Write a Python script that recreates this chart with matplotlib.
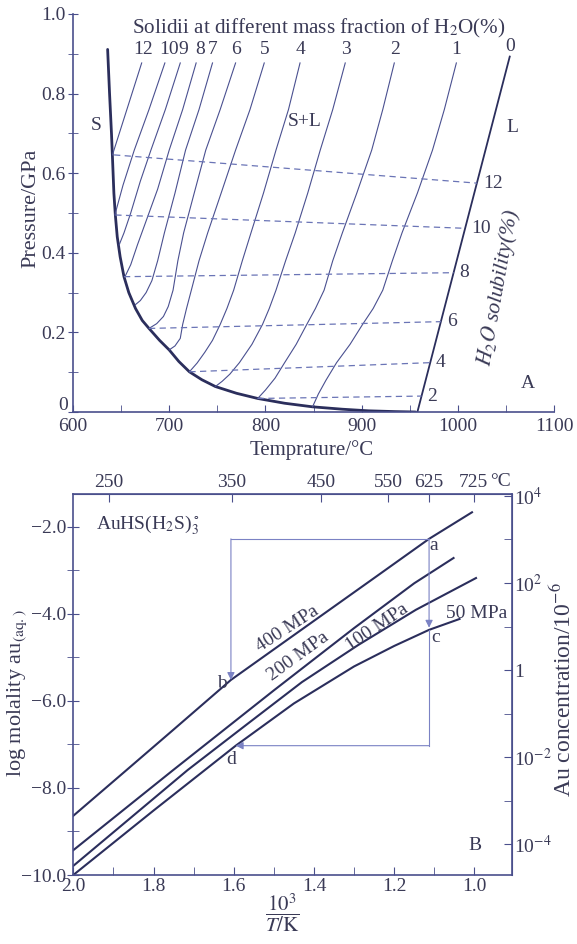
import matplotlib
matplotlib.use('Agg')
import matplotlib.pyplot as plt
from matplotlib.ticker import FixedLocator, FuncFormatter

plt.rcParams['font.family'] = ['Liberation Serif', 'DejaVu Serif']
plt.rcParams['mathtext.fontset'] = 'stix'
plt.rcParams['font.size'] = 14

# ---------------- data: panel A ----------------
S_T = [636, 638, 640, 641, 642.5, 644, 646, 649, 653, 658, 665, 672, 679, 690, 700, 710, 721,
       734, 748, 770, 792, 820, 849, 880, 907, 935, 956]
S_P = [0.911, 0.8, 0.7, 0.641, 0.55, 0.495, 0.44, 0.39, 0.34, 0.30, 0.26, 0.23, 0.21, 0.18, 0.156,
       0.127, 0.101, 0.081, 0.064, 0.047, 0.034, 0.022, 0.013, 0.007, 0.003, 0.001, 0.0]

L0_T = [958, 1054]
L0_P = [0.0, 0.893]

sol_12_T = [671.4, 656, 641]
sol_12_P = [0.877, 0.76, 0.646]
sol_10_T = [695.5, 679, 663.7, 652, 643.5]
sol_10_P = [0.877, 0.76, 0.658, 0.57, 0.495]
sol_9_T = [711.5, 696, 681, 670, 660, 653, 648]
sol_9_P = [0.877, 0.76, 0.658, 0.58, 0.5, 0.45, 0.42]
sol_8_T = [728, 714, 700, 688, 676, 667, 660, 654]
sol_8_P = [0.877, 0.76, 0.658, 0.56, 0.48, 0.42, 0.37, 0.34]
sol_7_T = [745, 731, 717, 706, 695, 688, 682, 676, 670, 665]
sol_7_P = [0.877, 0.76, 0.658, 0.55, 0.45, 0.38, 0.33, 0.30, 0.28, 0.27]
sol_6_T = [769, 753, 738, 726, 715, 709, 704, 699, 694, 687, 679]
sol_6_P = [0.877, 0.76, 0.658, 0.55, 0.45, 0.38, 0.306, 0.265, 0.24, 0.222, 0.21]
sol_5_T = [798.8, 784, 769, 754, 740, 731, 723, 718, 714, 711.5, 706, 700]
sol_5_P = [0.877, 0.76, 0.658, 0.55, 0.45, 0.38, 0.306, 0.26, 0.22, 0.185, 0.166, 0.156]
sol_4_T = [836, 824, 811, 798, 785, 776, 767, 760, 753, 745, 737, 729, 721]
sol_4_P = [0.877, 0.76, 0.658, 0.55, 0.45, 0.38, 0.306, 0.26, 0.22, 0.18, 0.15, 0.123, 0.101]
sol_3_T = [883, 870, 857, 844, 831, 821, 811, 804, 797, 786, 773, 763, 755, 748]
sol_3_P = [0.877, 0.76, 0.658, 0.55, 0.45, 0.38, 0.306, 0.26, 0.22, 0.17, 0.124, 0.095, 0.077, 0.064]
sol_2_T = [934, 922, 910.5, 895, 880, 870, 861, 852, 843, 832, 820, 810, 800, 792]
sol_2_P = [0.877, 0.76, 0.658, 0.55, 0.45, 0.38, 0.306, 0.26, 0.22, 0.17, 0.124, 0.085, 0.055, 0.034]
sol_1_T = [998.5, 986, 973.7, 958, 942, 932, 922, 912, 901, 888, 874, 863, 855, 849]
sol_1_P = [0.877, 0.76, 0.658, 0.55, 0.45, 0.38, 0.306, 0.26, 0.22, 0.17, 0.124, 0.08, 0.045, 0.013]

sol_labels = ['12', '10', '9', '8', '7', '6', '5', '4', '3', '2', '1', '0']
sol_label_T = [672.8, 700.1, 714.3, 731.9, 745.2, 769, 798.9, 837, 883.8, 934.3, 998.5, 1054]

dash_labels = ['12', '10', '8', '6', '4', '2']
dash_T0 = [642.7, 644, 653, 679, 721, 792]
dash_P0 = [0.646, 0.495, 0.34, 0.21, 0.101, 0.034]
dash_T1 = [1020, 1008, 996, 982.5, 971.4, 962.3]
dash_P1 = [0.575, 0.4615, 0.35, 0.227, 0.124, 0.04]

# ---------------- data: panel B ----------------
p400_x = [2.0, 1.866, 1.75, 1.607, 1.366, 1.25, 1.113, 1.006]
p400_y = [-8.64, -7.58, -6.66, -5.52, -3.94, -3.18, -2.28, -1.67]
p200_x = [2.0, 1.751, 1.5, 1.3, 1.15, 1.052]
p200_y = [-9.43, -7.59, -5.76, -4.33, -3.3, -2.72]
p100_x = [2.0, 1.86, 1.715, 1.57, 1.43, 1.29, 1.146, 1.07, 0.996]
p100_y = [-9.79, -8.71, -7.59, -6.56, -5.57, -4.72, -3.91, -3.54, -3.18]
p50_x = [2.0, 1.8, 1.595, 1.45, 1.3, 1.2, 1.113, 1.037]
p50_y = [-10.0, -8.52, -7.03, -6.06, -5.21, -4.74, -4.37, -4.12]

top_T_ticks = [250, 350, 450, 550, 625, 725]
right_ticks = [4, 2, 0, -2, -4]
right_labels = ['10$^4$', '10$^2$', '1', '10$^{-2}$', '10$^{-4}$']

pt_a = (1.113, -2.28)
pt_b = (1.607, -5.52)
pt_c = (1.113, -4.37)
pt_d = (1.595, -7.03)
box_bottom = -7.03

# ---------------- styling ----------------
W, H = 577, 944
TXT = '#3a3a56'
SPN = '#4a4f8c'
THICK = '#2b2e5c'
THIN = '#4a5090'
DASH = '#6a74b6'
BOX = '#7b82c4'
FS = 14

fig = plt.figure(figsize=(W / 100, H / 100), dpi=100)
fig.patch.set_facecolor('white')


def ftext(x, y, s, **kw):
    kw.setdefault('color', TXT)
    fig.text(x / W, 1 - y / H, s, **kw)


# ================= panel A =================
ax1 = fig.add_axes([73 / W, 1 - 412 / H, (554 - 73) / W, (412 - 14) / H])
ax1.set_xlim(600, 1100)
ax1.set_ylim(0, 1.0)
for s in ['top', 'right']:
    ax1.spines[s].set_visible(False)
for s in ['left', 'bottom']:
    ax1.spines[s].set_color(SPN)
    ax1.spines[s].set_linewidth(1.2)
ax1.set_xticks([600, 700, 800, 900, 1000, 1100])
ax1.set_xticks([650, 750, 850, 950, 1050], minor=True)
ax1.set_yticks([0, 0.2, 0.4, 0.6, 0.8, 1.0])
ax1.set_yticklabels(['', '0.2', '0.4', '0.6', '0.8', '1.0'])
ax1.set_yticks([0.1, 0.3, 0.5, 0.7, 0.9], minor=True)
ax1.tick_params(axis='x', which='both', direction='in', length=5, color=SPN, labelcolor=TXT, labelsize=FS, pad=4)
ax1.tick_params(axis='y', which='both', direction='inout', length=7, color=SPN, labelcolor=TXT, labelsize=FS, pad=2)
ftext(63, 405, '0', ha='center', va='center', fontsize=FS)

ax1.plot(S_T, S_P, color=THICK, lw=2.0, solid_capstyle='round', solid_joinstyle='round')
ax1.plot(L0_T, L0_P, color=THICK, lw=1.3)
for T, P in [(sol_12_T, sol_12_P), (sol_10_T, sol_10_P), (sol_9_T, sol_9_P), (sol_8_T, sol_8_P),
             (sol_7_T, sol_7_P), (sol_6_T, sol_6_P), (sol_5_T, sol_5_P), (sol_4_T, sol_4_P),
             (sol_3_T, sol_3_P), (sol_2_T, sol_2_P), (sol_1_T, sol_1_P)]:
    ax1.plot(T, P, color=THIN, lw=0.8, solid_joinstyle='round')

for lab, t0, p0, t1, p1 in zip(dash_labels, dash_T0, dash_P0, dash_T1, dash_P1):
    ax1.plot([t0, t1], [p0, p1], color=DASH, lw=0.9, dashes=(5, 3.5))
    ax1.text(t1 + 6, p1, lab, color=TXT, fontsize=FS, ha='left', va='center')

for lab, t in zip(sol_labels, sol_label_T):
    ax1.text(t, 0.912 if lab != '0' else 0.918, lab, color=TXT, fontsize=FS, ha='center', va='center')

ftext(132, 28, 'Solidii at different mass fraction of H$_2$O(%)', ha='left', va='center', fontsize=15.2)
ftext(96, 125, 'S', ha='center', va='center', fontsize=FS)
ftext(305, 122, 'S+L', ha='center', va='center', fontsize=FS)
ftext(512, 127, 'L', ha='center', va='center', fontsize=FS)
ftext(528, 383, 'A', ha='center', va='center', fontsize=FS)
ftext(499, 288, r'$H_2O$ solubility(%)', ha='center', va='center', fontsize=15.5,
      rotation=80, style='italic')
ftext(31, 208, 'Pressure/GPa', ha='center', va='center', fontsize=16, rotation=90)
ftext(312, 450, 'Temprature/°C', ha='center', va='center', fontsize=15)

# ================= panel B =================
ax2 = fig.add_axes([73.3 / W, 1 - 875 / H, (511.7 - 73.3) / W, (875 - 494) / H])
ax2.set_xlim(2.0, 0.907)
ax2.set_ylim(-10, -1.25)
for s in ax2.spines.values():
    s.set_color(SPN)
    s.set_linewidth(1.2)
ax2.set_xticks([2.0, 1.8, 1.6, 1.4, 1.2, 1.0])
ax2.set_xticks([1.9, 1.7, 1.5, 1.3, 1.1], minor=True)
ax2.xaxis.set_major_formatter(FuncFormatter(lambda v, p: f'{v:.1f}'))
ax2.set_yticks([-10, -8, -6, -4, -2])
ax2.set_yticks([-9, -7, -5, -3], minor=True)
ax2.yaxis.set_major_formatter(FuncFormatter(lambda v, p: f'{v:.1f}'.replace('-', '\u2212')))
ax2.tick_params(axis='x', which='both', direction='in', length=6, color=SPN, labelcolor=TXT, labelsize=FS, pad=2)
ax2.tick_params(axis='y', which='both', direction='inout', length=8, color=SPN, labelcolor=TXT, labelsize=FS, pad=1)

top = ax2.secondary_xaxis('top', functions=(lambda x: x, lambda x: x))
top.set_xticks([1000.0 / (t + 273.15) for t in top_T_ticks])
top.set_xticklabels([str(t) for t in top_T_ticks])
top.tick_params(direction='in', length=6, color=SPN, labelcolor=TXT, labelsize=FS, pad=2)
top.spines['top'].set_color(SPN)
ftext(490, 482, '°C', ha='left', va='center', fontsize=FS)

OFF = 5.294
right = ax2.secondary_yaxis('right', functions=(lambda y: y + OFF, lambda y: y - OFF))
right.set_yticks(right_ticks)
right.set_yticklabels(right_labels)
right.yaxis.set_minor_locator(FixedLocator([3, 1, -1, -3]))
right.tick_params(which='both', direction='in', length=6, color=SPN, labelcolor=TXT, labelsize=FS, pad=2)
right.spines['right'].set_color(SPN)

for xs, ys in [(p400_x, p400_y), (p200_x, p200_y), (p100_x, p100_y), (p50_x, p50_y)]:
    ax2.plot(xs, ys, color=THICK, lw=1.5, solid_joinstyle='round')

# path box with arrows
ax2.plot([pt_b[0], pt_a[0]], [pt_a[1], pt_a[1]], color=BOX, lw=0.8)
ax2.plot([pt_a[0], pt_a[0]], [pt_c[1], box_bottom], color=BOX, lw=0.8)
arr = dict(arrowstyle='-|>', color=BOX, lw=0.8, shrinkA=0, shrinkB=0, mutation_scale=11)
ax2.annotate('', xy=pt_b, xytext=(pt_b[0], pt_a[1]), arrowprops=arr)
ax2.annotate('', xy=(pt_c[0], pt_c[1] + 0.05), xytext=pt_a, arrowprops=arr)
ax2.annotate('', xy=pt_d, xytext=(pt_a[0], box_bottom), arrowprops=arr)

ftext(434, 545, 'a', ha='center', va='center', fontsize=FS)
ftext(222, 683, 'b', ha='center', va='center', fontsize=FS)
ftext(436, 637, 'c', ha='center', va='center', fontsize=FS)
ftext(231, 759, 'd', ha='center', va='center', fontsize=FS)
ftext(475, 845, 'B', ha='center', va='center', fontsize=FS)

ftext(96, 525, r'AuHS(H$_2$S)$_3^\circ$', ha='left', va='center', fontsize=FS)
ftext(287, 629, '400 MPa', ha='center', va='center', fontsize=FS, rotation=33)
ftext(298, 656, '200 MPa', ha='center', va='center', fontsize=FS, rotation=36)
ftext(377, 627, '100 MPa', ha='center', va='center', fontsize=FS, rotation=34)
ftext(446, 614, '50 MPa', ha='left', va='center', fontsize=FS)

ftext(17, 693, r'log molality au$_{\mathrm{(aq.)}}$', ha='center', va='center', fontsize=16, rotation=90)
ftext(563, 690, r'Au concentration/10$^{-6}$', ha='center', va='center', fontsize=17, rotation=90)
ftext(282, 913, r'$\dfrac{10^3}{T/\mathrm{K}}$', ha='center', va='center', fontsize=15)

fig.savefig('out.png', dpi=100, facecolor='white')
